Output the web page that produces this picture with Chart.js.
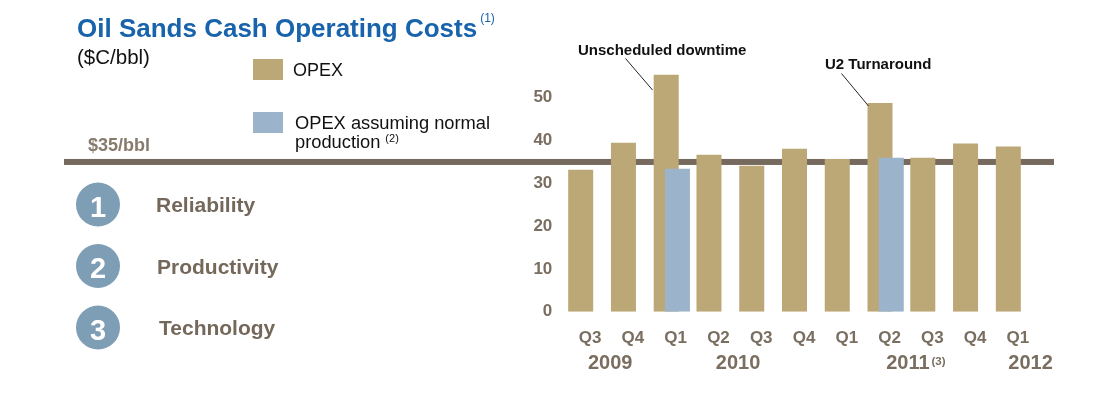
<!DOCTYPE html>
<html>
<head>
<meta charset="utf-8">
<script src="https://cdn.jsdelivr.net/npm/chart.js@4"></script>
<style>
html, body { margin: 0; padding: 0; background: #fff; }
#wrap { width: 1111px; height: 404px; position: relative; }
</style>
</head>
<body>
<div id="wrap"><canvas id="opexChart"></canvas></div>
<script>
// values ($C/bbl)
const quarters = ['Q3', 'Q4', 'Q1', 'Q2', 'Q3', 'Q4', 'Q1', 'Q2', 'Q3', 'Q4', 'Q1']
const opex = [33.2, 39.5, 55.4, 36.7, 34.1, 38.1, 35.7, 48.8, 36.0, 39.3, 38.6]
const opexNormal = [null, null, 33.4, null, null, null, null, 36.0, null, null, null]
const years = ['2009', '2010', '2011', '2012']
const yearPos = [0.69, 3.68, 7.65, 10.52]
const yearNotes = ['', '', '(3)', '']
const target = 35
const drivers = ['Reliability', 'Productivity', 'Technology']

const FONT = '"Liberation Sans", Arial, sans-serif'
const TAN = '#bca777'
const BLUE = '#9bb4cb'
const AXIS_TXT = '#7a6e60'
const barShift = 0.263

function text(ctx, s, x, y, font, color, align) {
    ctx.font = font
    ctx.fillStyle = color
    ctx.textAlign = align || 'left'
    ctx.textBaseline = 'alphabetic'
    ctx.fillText(s, x, y)
    return ctx.measureText(s).width
}

const slide = {
    id: 'slide',
    beforeDatasetsDraw(chart) {
        // $35/bbl target line sits behind the bars
        const ctx = chart.ctx
        const y = chart.scales.y.getPixelForValue(target)
        ctx.save()
        ctx.fillStyle = '#766a5e'
        ctx.fillRect(64, y - 3, 990, 6)
        ctx.restore()
    },
    afterDraw(chart) {
        const ctx = chart.ctx
        const xs = chart.scales.x
        ctx.save()

        // title
        let w = text(ctx, 'Oil Sands Cash Operating Costs', 77, 36.5, 'bold 26px ' + FONT, '#1863ab')
        text(ctx, '(1)', 77 + w + 3, 22, '12px ' + FONT, '#1863ab')
        text(ctx, '($C/bbl)', 77, 64, '20.5px ' + FONT, '#111')

        // legend
        ctx.fillStyle = TAN
        ctx.fillRect(253, 59, 30, 21)
        ctx.fillStyle = BLUE
        ctx.fillRect(253, 112, 30, 21)
        text(ctx, 'OPEX', 293, 76, '18px ' + FONT, '#111')
        text(ctx, 'OPEX assuming normal', 295, 128.5, '18.3px ' + FONT, '#111')
        w = text(ctx, 'production', 295, 147.5, '18.3px ' + FONT, '#111')
        text(ctx, '(2)', 295 + w + 5, 142, '11px ' + FONT, '#111')

        text(ctx, '$35/bbl', 88, 150.5, 'bold 18px ' + FONT, '#877b6d')

        // numbered drivers
        const cy = [204.5, 266, 327.5]
        const lx = [156, 157, 159]
        drivers.forEach((d, i) => {
            ctx.beginPath()
            ctx.arc(98, cy[i], 22, 0, Math.PI * 2)
            ctx.fillStyle = '#7e9eb5'
            ctx.fill()
            text(ctx, String(i + 1), 98, cy[i] + 12, 'bold 29px ' + FONT, '#fff', 'center')
            text(ctx, d, lx[i], cy[i] + 7.5, 'bold 21px ' + FONT, '#74685a')
        })

        // call-outs
        text(ctx, 'Unscheduled downtime', 578, 55, 'bold 15px ' + FONT, '#111')
        text(ctx, 'U2 Turnaround', 825, 69, 'bold 15px ' + FONT, '#111')
        ctx.strokeStyle = '#222'
        ctx.lineWidth = 1
        ctx.beginPath()
        ctx.moveTo(625.5, 58.5); ctx.lineTo(652.5, 90)
        ctx.moveTo(841.5, 73.5); ctx.lineTo(868.5, 106)
        ctx.stroke()

        // year labels under the quarters
        years.forEach((yr, i) => {
            const cx = xs.getPixelForValue(yearPos[i])
            const yw = text(ctx, yr, cx, 368.5, 'bold 20px ' + FONT, AXIS_TXT, 'center')
            if (yearNotes[i]) text(ctx, yearNotes[i], cx + yw / 2 + 2, 365, 'bold 11.5px ' + FONT, AXIS_TXT)
        })
        ctx.restore()
    }
}

new Chart(document.getElementById('opexChart'), {
    type: 'bar',
    data: {
        labels: quarters,
        datasets: [{
            label: 'OPEX',
            data: opex,
            backgroundColor: TAN,
            grouped: false,
            maxBarThickness: 25,
            order: 2
        }, {
            label: 'OPEX assuming normal production',
            data: opexNormal.map((v, i) => v == null ? null : { x: i, y: v }).filter(p => p),
            backgroundColor: BLUE,
            grouped: false,
            maxBarThickness: 25,
            xAxisID: 'x2',
            order: 1
        }]
    },
    options: {
        responsive: true,
        maintainAspectRatio: false,
        animation: false,
        layout: { padding: { left: 519.3, right: 81.3, top: 55, bottom: 52.3 } },
        plugins: {
            legend: { display: false },
            title: { display: false },
            tooltip: { enabled: false }
        },
        scales: {
            x: {
                afterFit: s => { s.height = 40 },
                ticks: { padding: 16, labelOffset: 9.5, color: AXIS_TXT, font: { family: FONT, size: 17, weight: 'bold' }, maxRotation: 0, autoSkip: false },
                grid: { display: false, drawTicks: false },
                border: { display: false }
            },
            x2: {
                type: 'linear',
                display: false,
                offset: false,
                min: -0.5 - barShift,
                max: quarters.length - 0.5 - barShift,
                ticks: { stepSize: 1 },
                afterBuildTicks: s => { s.ticks = s.ticks.filter(t => Number.isInteger(t.value)) }
            },
            y: {
                min: 0,
                max: 60,
                afterFit: s => { s.width = 40 },
                afterBuildTicks: s => { s.ticks = s.ticks.filter(t => t.value <= 50) },
                ticks: { stepSize: 10, padding: 7, color: AXIS_TXT, font: { family: FONT, size: 17, weight: 'bold' } },
                grid: { display: false, drawTicks: false },
                border: { display: false }
            }
        }
    },
    plugins: [slide]
})
</script>
</body>
</html>
